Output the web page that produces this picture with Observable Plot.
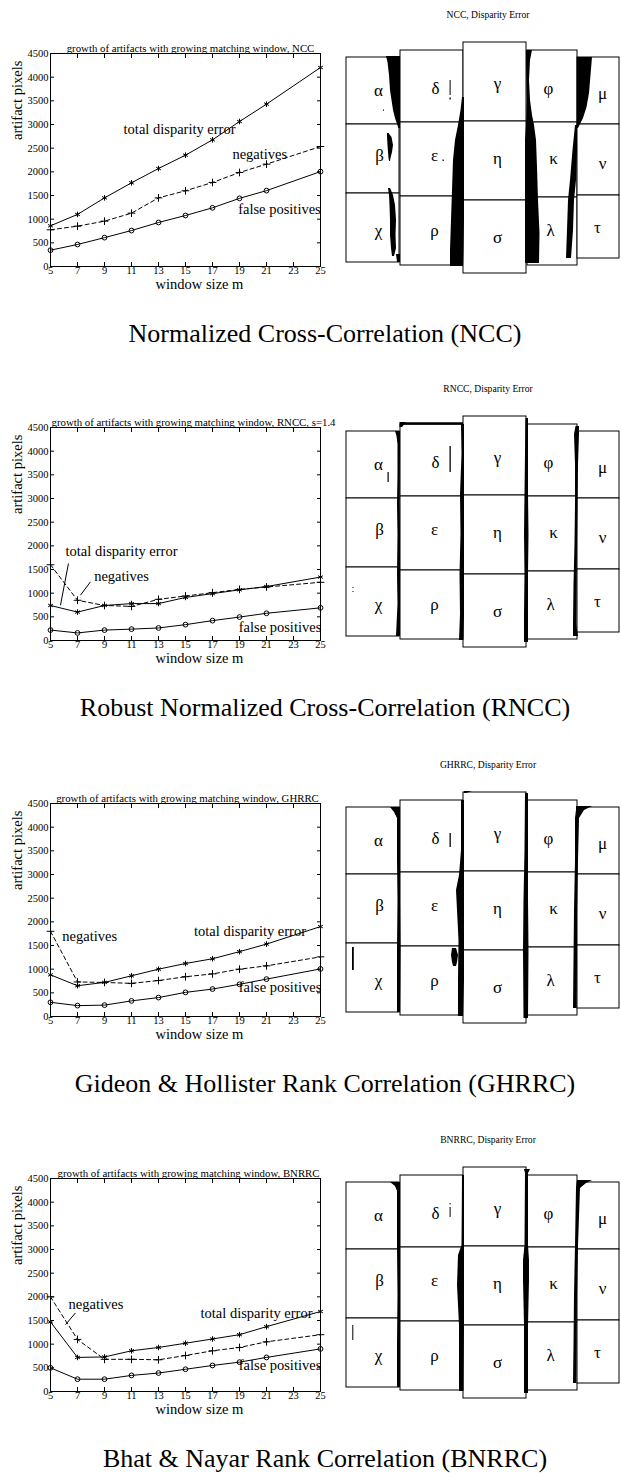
<!DOCTYPE html>
<html><head><meta charset="utf-8">
<script src="https://cdn.jsdelivr.net/npm/d3@7"></script>
<script src="https://cdn.jsdelivr.net/npm/@observablehq/plot@0.6"></script>
<style>
body{margin:0;background:#fff;}
#root{position:relative;width:621px;height:1477px;background:#fff;font-family:"Liberation Serif","Times New Roman",serif;overflow:hidden;}
.panel{position:absolute;left:0;width:621px;height:375px;}
.caption{position:absolute;top:319px;left:325px;transform:translateX(-50%);white-space:nowrap;font-size:26px;line-height:30px;color:#000;}
</style></head><body><div id="root"></div>
<script>
// ---------- data ----------
const windowSizes = [5, 7, 9, 11, 13, 15, 17, 19, 21, 25];
const xTicks = [5, 7, 9, 11, 13, 15, 17, 19, 21, 23, 25];
const yTicks = [0, 500, 1000, 1500, 2000, 2500, 3000, 3500, 4000, 4500];

const nccTotal = [860, 1100, 1450, 1768, 2070, 2352, 2676, 3063, 3430, 4204];
const nccNegatives = [775, 852, 958, 1127, 1450, 1600, 1775, 1986, 2162, 2535];
const nccFalsePositives = [345, 465, 610, 760, 930, 1078, 1240, 1440, 1603, 2005];

const rnccTotal = [740, 600, 740, 780, 780, 910, 990, 1070, 1140, 1340];
const rnccNegatives = [1600, 850, 740, 720, 870, 940, 1010, 1080, 1130, 1230];
const rnccFalsePositives = [220, 160, 220, 240, 265, 335, 420, 495, 575, 690];

const ghrrcTotal = [880, 650, 720, 860, 1000, 1120, 1220, 1370, 1530, 1900];
const ghrrcNegatives = [1800, 730, 720, 700, 760, 840, 900, 1000, 1070, 1260];
const ghrrcFalsePositives = [300, 230, 240, 330, 400, 510, 580, 680, 790, 1005];

const bnrrcTotal = [1470, 720, 730, 860, 930, 1020, 1110, 1200, 1370, 1690];
const bnrrcNegatives = [2000, 1100, 680, 680, 670, 760, 860, 930, 1050, 1200];
const bnrrcFalsePositives = [500, 260, 260, 340, 390, 470, 550, 620, 720, 900];

const nccLabels = [
  {text: "total disparity error", x: 14.56, y: 2900},
  {text: "negatives", x: 20.5, y: 2373},
  {text: "false positives", x: 21.96, y: 1197}
];
const rnccLabels = [
  {text: "total disparity error", x: 10.26, y: 1873},
  {text: "negatives", x: 10.26, y: 1359},
  {text: "false positives", x: 22.0, y: 280}
];
const rnccLeaders = [
  {x1: 6.33, y1: 1627, x2: 5.74, y2: 746},
  {x1: 7.96, y1: 1239, x2: 7.22, y2: 958}
];
const ghrrcLabels = [
  {text: "negatives", x: 7.9, y: 1685},
  {text: "total disparity error", x: 19.78, y: 1804},
  {text: "false positives", x: 22.0, y: 620}
];
const bnrrcLabels = [
  {text: "negatives", x: 8.37, y: 1838},
  {text: "total disparity error", x: 20.26, y: 1660},
  {text: "false positives", x: 22.0, y: 560}
];
const bnrrcLeaders = [
  {x1: 6.85, y1: 1660, x2: 6.11, y2: 1413}
];

const chartTitles = [
  "growth of artifacts with growing matching window, NCC",
  "growth of artifacts with growing matching window, RNCC, s=1.4",
  "growth of artifacts with growing matching window, GHRRC",
  "growth of artifacts with growing matching window, BNRRC"
];
const imageTitles = ["NCC, Disparity Error", "RNCC, Disparity Error", "GHRRC, Disparity Error", "BNRRC, Disparity Error"];
const captions = [
  "Normalized Cross-Correlation (NCC)",
  "Robust Normalized Cross-Correlation (RNCC)",
  "Gideon & Hollister Rank Correlation (GHRRC)",
  "Bhat & Nayar Rank Correlation (BNRRC)"
];

// disparity-error image: box layout (image pixel coordinates)
const colX1 = [6, 60, 123, 187, 237];
const colX2 = [59, 123, 186, 237, 279];
const colTop = [57, 50, 42, 50, 57];
const colMid1 = [124, 122, 121, 122, 124];
const colMid2 = [193, 196, 200, 197, 195];
const colBottom = [262, 265, 273, 265, 258];
const greekLetters = ["α","δ","γ","φ","μ","β","ε","η","κ","ν","χ","ρ","σ","λ","τ"];
const letterX = [38, 95, 157, 208, 262, 39, 94, 157, 213, 262, 38, 94, 157, 210, 257];
const letterY = [90, 88, 83, 88, 93, 155, 155, 158, 158, 163, 230, 230, 237, 230, 227];

// black artifact regions: each region is a list of [y, x1, x2]
const nccArtifacts = [
  [[56,46,60],[62,47.5,60],[75,49,60],[90,50,60],[100,51.5,60],[110,53,60],[118,55,60],[124,57,60],[128,58.5,60]],
  [[133,47,48.5],[137,47,51.5],[145,47.5,53],[152,48,52],[158,48.5,50.5],[161,49,50]],
  [[188,48,50],[195,49,53],[205,49.5,55],[220,50,56],[235,50,55.5],[248,51,56],[256,52,54]],
  [[254,56,60],[262,57,60]],
  [[97,122,124],[110,120.5,124],[125,118,124],[140,115,124],[160,113,124],[190,112,124],[220,111,124],[250,110,123.5],[266,110,123]],
  [[50,186,192],[60,186,190],[80,186.5,189],[100,187,190],[115,186.5,192],[125,186,194],[140,185,196],[167,185,197],[200,185,198],[233,185,199.5],[263,185,199]],
  [[57,237,252],[75,237,250.5],[93,237,249],[107,237,246.5],[118,237,243],[124,237,240],[128,237,238]],
  [[125,235,237],[150,232.5,237],[180,230,236],[200,228,234],[230,227,233],[258,226,231]],
  [[80,109.6,110.6],[95,109.6,110.6]],
  [[97.5,109.5,110.8],[99.5,109.5,110.8]],
  [[159.5,102.5,103.8],[161,102.5,103.8]],
  [[109.5,43,44],[110.8,43,44]]
];
const rnccArtifacts = [
  [[57,55,60],[62,56.5,60],[70,57.5,60],[100,57.5,59.8],[130,57,59.5],[160,57.5,60],[200,57,60],[230,57.5,60],[262,56,60]],
  [[48.3,60,123],[50.8,60,123]],
  [[48,59.5,66],[53,59.5,62]],
  [[50,121,124],[80,121.5,124],[120,120,124],[160,120.5,124],[200,119.5,124],[240,120,124],[266,119,123.5]],
  [[44,185.5,188],[80,185,188],[120,184.5,188],[160,184,188.5],[200,184.5,188],[240,184,188],[268,184,188]],
  [[52,235.5,239],[60,234,239],[90,235,238],[130,235,237.5],[170,234.5,237],[210,233.5,236.5],[250,233,236],[262,233,238]],
  [[98,47.5,48.7],[108,47.5,48.7]],
  [[72,109.5,110.8],[98,109.5,110.8]],
  [[213,12.5,13.5],[214,12.5,13.5]],
  [[217,12.5,13.5],[218,12.5,13.5]]
];
const ghrrcArtifacts = [
  [[57,50,60],[62,54,60],[68,57,60],[110,57,60],[150,57.5,60],[200,57,60.5],[262,57,60]],
  [[50,121,124],[100,121,124],[125,119,124],[140,116,124],[160,117,124],[190,118.5,124],[230,118,124],[266,118,123]],
  [[43,185,188],[100,184.5,188],[150,183.5,188],[200,183,188.5],[268,183.5,188]],
  [[56,236,252],[60,236,244],[68,235,239],[110,235,238],[160,234,237],[210,233.5,237],[258,233,236.5]],
  [[197,12,13.8],[220,12,13.8]],
  [[198,112,116],[205,111,118],[212,112,117],[216,113,116]],
  [[83,109.5,110.8],[97,109.5,110.8]],
  [[41,124,132],[43,124,126]]
];
const bnrrcArtifacts = [
  [[57,50,60],[61,55,60],[66,57,60],[120,57,60],[170,57.5,60],[220,57,60],[262,57,60]],
  [[50,122,124],[120,121.5,124],[130,118,124],[160,117,124],[200,119,124],[266,119,123.5]],
  [[44,184,190],[48,185,188],[120,184.5,188],[135,183,189],[155,183,189],[200,184,188],[268,184,188]],
  [[55,237,252],[58,237,246],[63,236,240],[120,235,238],[170,234,237],[220,233.5,236.5],[258,233,236]],
  [[78,109.6,110.6],[79.5,109.6,110.6]],
  [[82,109.6,110.6],[92,109.6,110.6]],
  [[200,12.3,13.3],[215,12.3,13.3]]
];

// ---------- drawing ----------
const FONT = '"Liberation Serif", "Times New Roman", serif';
const fmt = d => String(d);

function lineChart(title, titleDx, total, neg, fp, labels, leaders) {
  const rows = vals => windowSizes.map((m, i) => ({m, v: vals[i]}));
  const T = rows(total), N = rows(neg), F = rows(fp);
  return Plot.plot({
    width: 340, height: 300,
    marginTop: 53, marginBottom: 34, marginLeft: 50, marginRight: 20,
    style: {fontFamily: FONT, fontSize: "10.5px", color: "black", background: "white", overflow: "visible"},
    x: {domain: [5, 25]},
    y: {domain: [0, 4500]},
    marks: [
      Plot.frame({stroke: "black", strokeWidth: 1}),
      Plot.axisX(xTicks, {anchor: "bottom", tickSize: 0, tickPadding: 0, tickFormat: fmt, label: null}),
      Plot.axisX(xTicks, {anchor: "bottom", tickSize: -4, fill: "none", label: null}),
      Plot.axisX(xTicks, {anchor: "top", tickSize: -4, fill: "none", label: null}),
      Plot.axisY(yTicks, {anchor: "left", tickSize: 0, tickPadding: 2, tickFormat: fmt, label: null}),
      Plot.axisY(yTicks, {anchor: "left", tickSize: -4, fill: "none", label: null}),
      Plot.axisY(yTicks, {anchor: "right", tickSize: -4, fill: "none", label: null}),
      Plot.line(T, {x: "m", y: "v", stroke: "black", strokeWidth: 1}),
      Plot.dot(T, {x: "m", y: "v", symbol: "asterisk", r: 2.6, stroke: "black", strokeWidth: 1}),
      Plot.line(N, {x: "m", y: "v", stroke: "black", strokeWidth: 1, strokeDasharray: "4,3"}),
      Plot.dot(N, {x: "m", y: "v", symbol: "plus", r: 2.6, stroke: "black", strokeWidth: 1}),
      Plot.line(F, {x: "m", y: "v", stroke: "black", strokeWidth: 1}),
      Plot.dot(F, {x: "m", y: "v", symbol: "circle", r: 2.4, stroke: "black", fill: "none", strokeWidth: 1}),
      Plot.link(leaders || [], {x1: "x1", y1: "y1", x2: "x2", y2: "y2", stroke: "black", strokeWidth: 1}),
      Plot.text(labels, {x: "x", y: "y", text: "text", fontSize: 14.5, fill: "black"}),
      Plot.text([title], {text: d => d, frameAnchor: "top", dx: titleDx, dy: -9, fontSize: 10.8, fill: "black"}),
      Plot.text(["artifact pixels"], {text: d => d, frameAnchor: "left", dx: -33, dy: -20, rotate: -90, fontSize: 14.5, fill: "black"}),
      Plot.text(["window size m"], {text: d => d, frameAnchor: "bottom", dx: 14, dy: 22, fontSize: 14.5, fill: "black"})
    ]
  });
}

function imagePanel(title, artifacts) {
  const boxes = [];
  for (let c = 0; c < 5; c++) {
    const ys = [colTop[c], colMid1[c], colMid2[c], colBottom[c]];
    for (let r = 0; r < 3; r++) boxes.push({x1: colX1[c], x2: colX2[c], y1: ys[r], y2: ys[r + 1]});
  }
  const letters = greekLetters.map((t, i) => ({t, x: letterX[i], y: letterY[i]}));
  const regions = [];
  artifacts.forEach((reg, g) => reg.forEach(([y, x1, x2]) => regions.push({g, y, x1, x2})));
  return Plot.plot({
    width: 281, height: 280,
    margin: 0,
    style: {fontFamily: FONT, background: "white", overflow: "visible"},
    x: {domain: [0, 281], axis: null},
    y: {domain: [0, 280], reverse: true, axis: null},
    marks: [
      Plot.rect(boxes, {x1: "x1", x2: "x2", y1: "y1", y2: "y2", fill: "white", stroke: "black", strokeWidth: 1}),
      Plot.areaX(regions, {y: "y", x1: "x1", x2: "x2", z: "g", fill: "black", curve: "linear"}),
      Plot.text(letters, {x: "x", y: "y", text: "t", fontSize: 17, fill: "black"}),
      Plot.text([title], {text: d => d, frameAnchor: "top", dx: 7, dy: 11, fontSize: 9.6, fill: "black"})
    ]
  });
}

const offsets = [0, 374, 750, 1125];
const titleShift = [5, 8, 2, 3];
const panels = [
  [nccTotal, nccNegatives, nccFalsePositives, nccLabels, [], nccArtifacts],
  [rnccTotal, rnccNegatives, rnccFalsePositives, rnccLabels, rnccLeaders, rnccArtifacts],
  [ghrrcTotal, ghrrcNegatives, ghrrcFalsePositives, ghrrcLabels, [], ghrrcArtifacts],
  [bnrrcTotal, bnrrcNegatives, bnrrcFalsePositives, bnrrcLabels, bnrrcLeaders, bnrrcArtifacts]
];
const root = document.getElementById("root");
panels.forEach(([tot, neg, fp, labels, leaders, arts], i) => {
  const p = document.createElement("div");
  p.className = "panel";
  p.style.top = offsets[i] + "px";
  const c = lineChart(chartTitles[i], titleShift[i], tot, neg, fp, labels, leaders);
  c.style.position = "absolute"; c.style.left = "0px"; c.style.top = "0px";
  p.appendChild(c);
  const im = imagePanel(imageTitles[i], arts);
  im.style.position = "absolute"; im.style.left = "340px"; im.style.top = "0px";
  p.appendChild(im);
  const cap = document.createElement("div");
  cap.className = "caption";
  cap.textContent = captions[i];
  p.appendChild(cap);
  root.appendChild(p);
});
</script>
</body></html>
